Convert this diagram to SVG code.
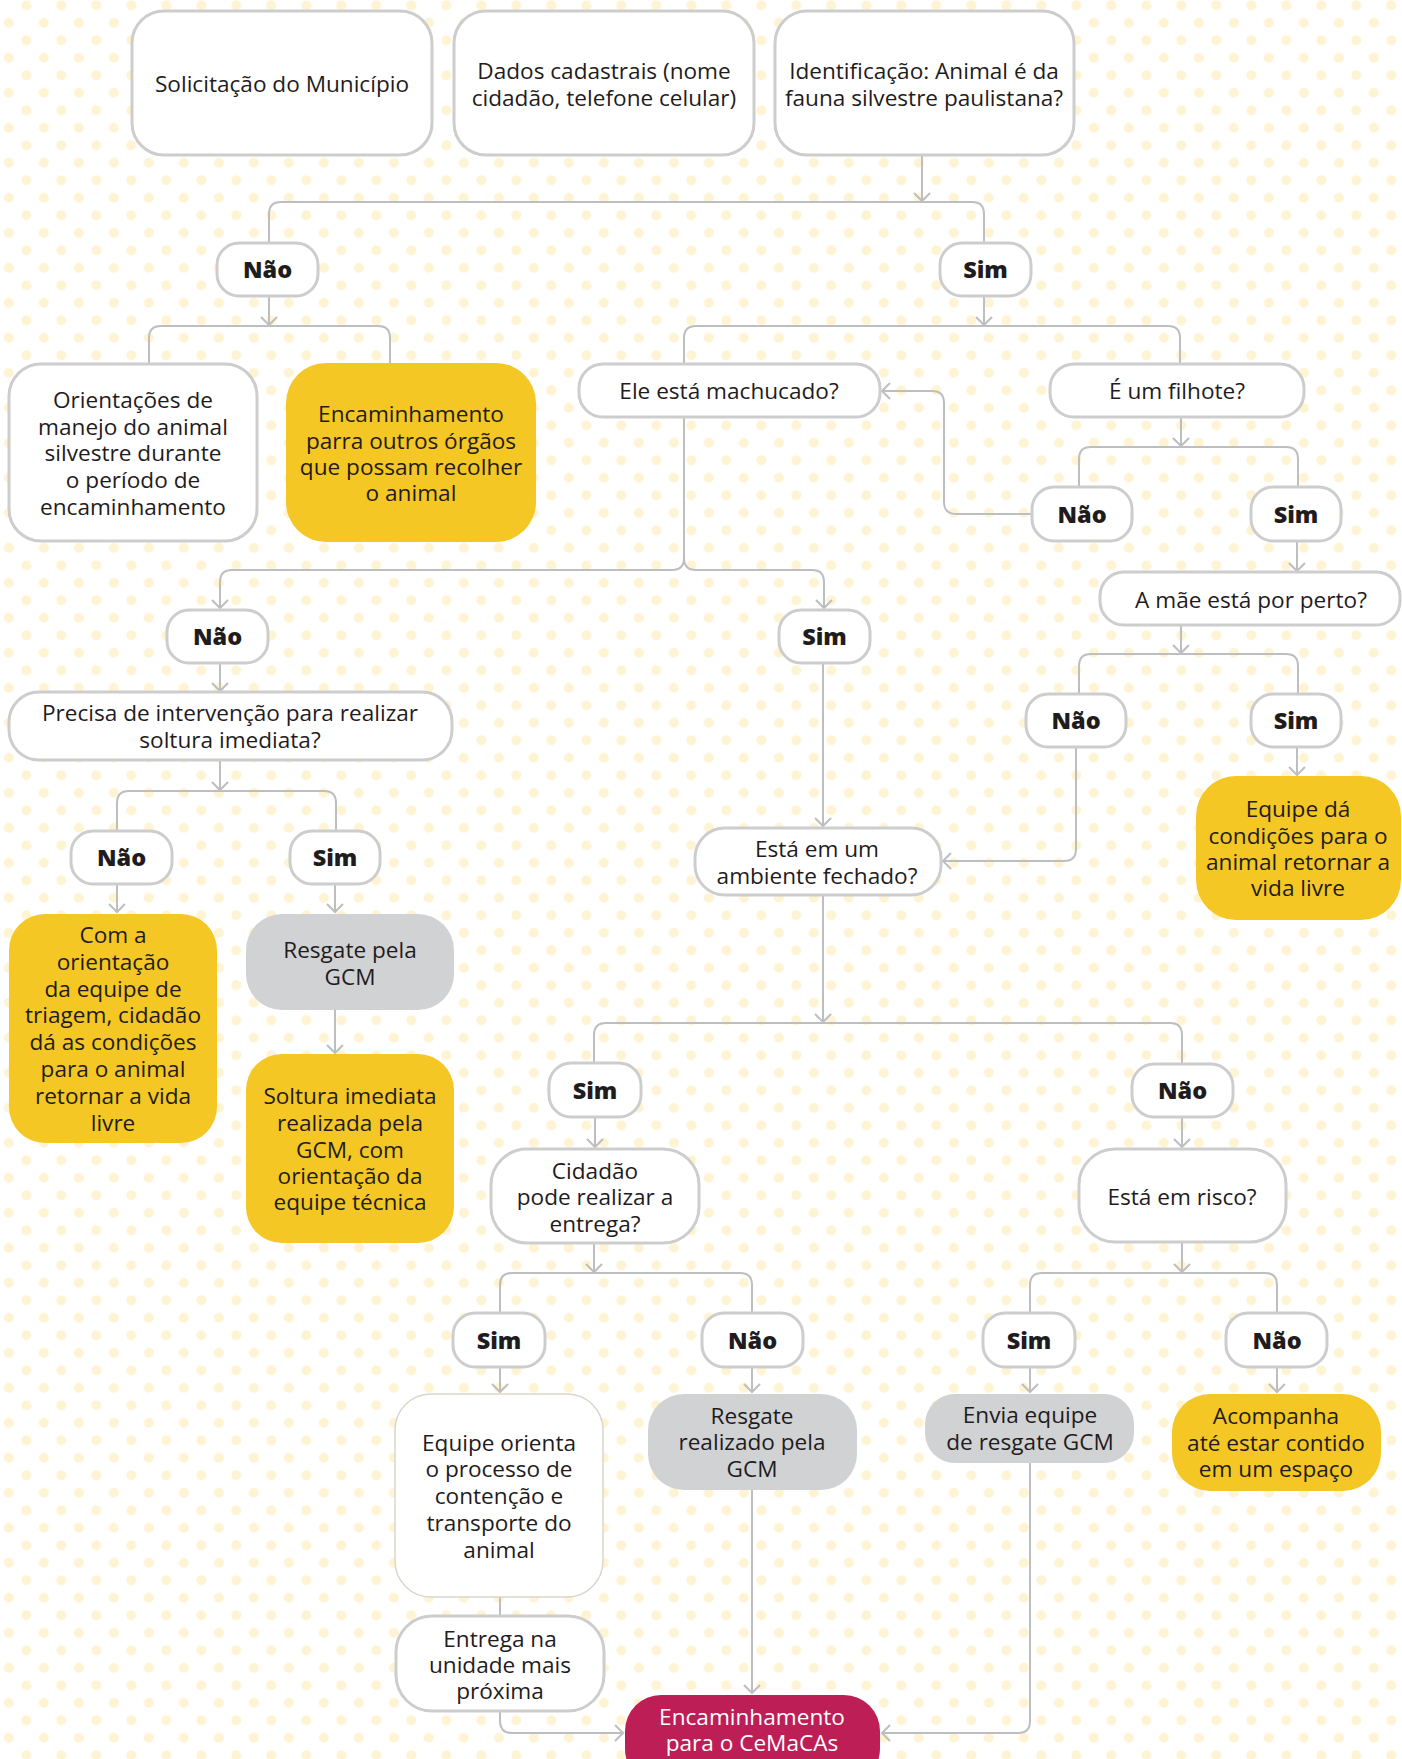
<svg xmlns="http://www.w3.org/2000/svg" width="1402" height="1759" viewBox="0 0 1402 1759">
<defs>
<pattern id="dots" x="17.55" y="31.55" width="35" height="35" patternUnits="userSpaceOnUse">
<circle cx="8.75" cy="8.75" r="5" fill="#FEF3D2"/>
<circle cx="26.25" cy="26.25" r="5" fill="#FEF3D2"/>
</pattern>
<marker id="ar" viewBox="-10 -10 20 20" markerWidth="20" markerHeight="20" refX="0" refY="0" orient="auto" markerUnits="userSpaceOnUse">
<path d="M-8,-8 L0,0 L-8,8" fill="none" stroke="#BDBEC0" stroke-width="2"/>
</marker>
<style>
.box{fill:#fff;stroke:#CDCDCD;stroke-width:3}
.thin{fill:#fff;stroke:#DAD6CC;stroke-width:1.5}
.y{fill:#F4C724}
.g{fill:#D1D2D4}
.r{fill:#BD1E56}
.t{font-family:'Open Sans','Noto Sans','DejaVu Sans',sans-serif;font-size:22.6px;fill:#1F1C1D;text-anchor:middle}
.b{font-weight:800;font-size:23.5px}
.w{fill:#fff}
.c{fill:none;stroke:#BDBEC0;stroke-width:2}
.c.a{marker-end:url(#ar)}
</style>
</defs>
<rect width="1402" height="1759" fill="#fff"/>
<rect width="1402" height="1759" fill="url(#dots)"/>

<g id="connectors">
<path class="c a" d="M922,155 V201"/>
<path class="c" d="M269,243 V214 Q269,202 281,202 H972 Q984,202 984,214 V243"/>
<path class="c a" d="M269,296 V325"/>
<path class="c" d="M149,364 V338 Q149,326 161,326 H378 Q390,326 390,338 V364"/>
<path class="c a" d="M984,296 V325"/>
<path class="c" d="M684,364 V338 Q684,326 696,326 H1168 Q1180,326 1180,338 V364"/>
<path class="c a" d="M1181,417 V446"/>
<path class="c" d="M1079,487 V459 Q1079,447 1091,447 H1286 Q1298,447 1298,459 V487"/>
<path class="c a" d="M1032,514 H956 Q944,514 944,502 V403 Q944,391 932,391 H882"/>
<path class="c a" d="M1297,541 V571"/>
<path class="c a" d="M1181,625 V653"/>
<path class="c" d="M1079,694 V666 Q1079,654 1091,654 H1286 Q1298,654 1298,666 V694"/>
<path class="c a" d="M1297,747 V775"/>
<path class="c a" d="M1076,747 V849 Q1076,861 1064,861 H943"/>
<path class="c a" d="M684,417 V558 Q684,570 672,570 H232 Q220,570 220,582 V608"/>
<path class="c a" d="M684,558 Q684,570 696,570 H812 Q824,570 824,582 V608"/>
<path class="c a" d="M220,663 V691"/>
<path class="c a" d="M220,760 V790"/>
<path class="c" d="M117,831 V803 Q117,791 129,791 H324 Q336,791 336,803 V831"/>
<path class="c a" d="M117,884 V912"/>
<path class="c a" d="M335,884 V912"/>
<path class="c a" d="M335,1010 V1053"/>
<path class="c a" d="M823,663 V826"/>
<path class="c a" d="M823,895 V1022"/>
<path class="c" d="M594,1063 V1035 Q594,1023 606,1023 H1170 Q1182,1023 1182,1035 V1064"/>
<path class="c a" d="M595,1117 V1147"/>
<path class="c a" d="M1182,1117 V1147"/>
<path class="c a" d="M594,1243 V1272"/>
<path class="c" d="M500,1313 V1285 Q500,1273 512,1273 H740 Q752,1273 752,1285 V1313"/>
<path class="c a" d="M1182,1242 V1272"/>
<path class="c" d="M1030,1313 V1285 Q1030,1273 1042,1273 H1265 Q1277,1273 1277,1285 V1313"/>
<path class="c a" d="M500,1367 V1392"/>
<path class="c a" d="M752,1367 V1392"/>
<path class="c a" d="M1030,1367 V1392"/>
<path class="c a" d="M1277,1367 V1392"/>
<path class="c" d="M500,1597 V1616"/>
<path class="c a" d="M500,1711 V1721 Q500,1733 512,1733 H623"/>
<path class="c a" d="M752,1490 V1693"/>
<path class="c a" d="M1030,1463 V1721 Q1030,1733 1018,1733 H882"/>
</g>

<g id="n-solicitacao"><rect class="box" x="132" y="11" width="300" height="144" rx="32"/><text class="t"><tspan x="282" y="92">Solicitação do Município</tspan></text></g>
<g id="n-dados"><rect class="box" x="454" y="11" width="300" height="144" rx="32"/><text class="t"><tspan x="604" y="79">Dados cadastrais (nome</tspan><tspan x="604" y="106">cidadão, telefone celular)</tspan></text></g>
<g id="n-identificacao"><rect class="box" x="775" y="11" width="299" height="144" rx="32"/><text class="t"><tspan x="924" y="79">Identificação: Animal é da</tspan><tspan x="924" y="106">fauna silvestre paulistana?</tspan></text></g>
<g id="n-nao1"><rect class="box" x="217" y="243" width="101" height="53" rx="22"/><text class="t b" x="267.5" y="278">Não</text></g>
<g id="n-sim1"><rect class="box" x="940" y="243" width="91" height="53" rx="22"/><text class="t b" x="985.5" y="278">Sim</text></g>
<g id="n-orientacoes"><rect class="box" x="9" y="364" width="248" height="177" rx="32"/><text class="t"><tspan x="133" y="408">Orientações de</tspan><tspan x="133" y="435">manejo do animal</tspan><tspan x="133" y="461">silvestre durante</tspan><tspan x="133" y="488">o período de</tspan><tspan x="133" y="515">encaminhamento</tspan></text></g>
<g id="n-encaminhamento-orgaos"><rect class="y" x="286" y="363" width="250" height="179" rx="40"/><text class="t"><tspan x="411" y="422">Encaminhamento</tspan><tspan x="411" y="449">parra outros órgãos</tspan><tspan x="411" y="475">que possam recolher</tspan><tspan x="411" y="501">o animal</tspan></text></g>
<g id="n-machucado"><rect class="box" x="579" y="364" width="301" height="53" rx="24"/><text class="t" x="729" y="399">Ele está machucado?</text></g>
<g id="n-filhote"><rect class="box" x="1050" y="364" width="254" height="53" rx="24"/><text class="t" x="1177" y="399">É um filhote?</text></g>
<g id="n-nao-filhote"><rect class="box" x="1032" y="487" width="100" height="54" rx="22"/><text class="t b" x="1082" y="523">Não</text></g>
<g id="n-sim-filhote"><rect class="box" x="1251" y="487" width="90" height="54" rx="22"/><text class="t b" x="1296" y="523">Sim</text></g>
<g id="n-mae"><rect class="box" x="1100" y="572" width="300" height="53" rx="24"/><text class="t" x="1251" y="608">A mãe está por perto?</text></g>
<g id="n-nao-mach"><rect class="box" x="167" y="610" width="101" height="53" rx="22"/><text class="t b" x="217.5" y="645">Não</text></g>
<g id="n-sim-mach"><rect class="box" x="779" y="610" width="91" height="53" rx="22"/><text class="t b" x="824.5" y="645">Sim</text></g>
<g id="n-precisa"><rect class="box" x="9" y="692" width="443" height="68" rx="30"/><text class="t"><tspan x="230" y="721">Precisa de intervenção para realizar</tspan><tspan x="230" y="748">soltura imediata?</tspan></text></g>
<g id="n-nao-mae"><rect class="box" x="1026" y="694" width="100" height="53" rx="22"/><text class="t b" x="1076" y="729">Não</text></g>
<g id="n-sim-mae"><rect class="box" x="1251" y="694" width="90" height="53" rx="22"/><text class="t b" x="1296" y="729">Sim</text></g>
<g id="n-equipe-da"><rect class="y" x="1196" y="776" width="205" height="144" rx="40"/><text class="t"><tspan x="1298" y="817">Equipe dá</tspan><tspan x="1298" y="844">condições para o</tspan><tspan x="1298" y="870">animal retornar a</tspan><tspan x="1298" y="896">vida livre</tspan></text></g>
<g id="n-nao-prec"><rect class="box" x="71" y="831" width="101" height="53" rx="22"/><text class="t b" x="121.5" y="866">Não</text></g>
<g id="n-sim-prec"><rect class="box" x="290" y="831" width="90" height="53" rx="22"/><text class="t b" x="335" y="866">Sim</text></g>
<g id="n-ambiente"><rect class="box" x="695" y="828" width="246" height="67" rx="30"/><text class="t"><tspan x="817" y="857">Está em um</tspan><tspan x="817" y="884">ambiente fechado?</tspan></text></g>
<g id="n-com-a"><rect class="y" x="9" y="914" width="208" height="229" rx="36"/><text class="t"><tspan x="113" y="943">Com a</tspan><tspan x="113" y="970">orientação</tspan><tspan x="113" y="997">da equipe de</tspan><tspan x="113" y="1023">triagem, cidadão</tspan><tspan x="113" y="1050">dá as condições</tspan><tspan x="113" y="1077">para o animal</tspan><tspan x="113" y="1104">retornar a vida</tspan><tspan x="113" y="1131">livre</tspan></text></g>
<g id="n-resgate-gcm"><rect class="g" x="246" y="914" width="208" height="96" rx="36"/><text class="t"><tspan x="350" y="958">Resgate pela</tspan><tspan x="350" y="985">GCM</tspan></text></g>
<g id="n-soltura"><rect class="y" x="246" y="1054" width="208" height="189" rx="36"/><text class="t"><tspan x="350" y="1104">Soltura imediata</tspan><tspan x="350" y="1131">realizada pela</tspan><tspan x="350" y="1158">GCM, com</tspan><tspan x="350" y="1184">orientação da</tspan><tspan x="350" y="1210">equipe técnica</tspan></text></g>
<g id="n-sim-amb"><rect class="box" x="549" y="1063" width="92" height="54" rx="22"/><text class="t b" x="595" y="1099">Sim</text></g>
<g id="n-nao-amb"><rect class="box" x="1132" y="1064" width="101" height="53" rx="22"/><text class="t b" x="1182.5" y="1099">Não</text></g>
<g id="n-cidadao"><rect class="box" x="491" y="1149" width="208" height="94" rx="36"/><text class="t"><tspan x="595" y="1179">Cidadão</tspan><tspan x="595" y="1205">pode realizar a</tspan><tspan x="595" y="1232">entrega?</tspan></text></g>
<g id="n-risco"><rect class="box" x="1079" y="1149" width="207" height="93" rx="36"/><text class="t" x="1182" y="1205">Está em risco?</text></g>
<g id="n-sim-cid"><rect class="box" x="453" y="1313" width="92" height="54" rx="22"/><text class="t b" x="499" y="1349">Sim</text></g>
<g id="n-nao-cid"><rect class="box" x="702" y="1313" width="101" height="54" rx="22"/><text class="t b" x="752.5" y="1349">Não</text></g>
<g id="n-sim-risco"><rect class="box" x="983" y="1313" width="92" height="54" rx="22"/><text class="t b" x="1029" y="1349">Sim</text></g>
<g id="n-nao-risco"><rect class="box" x="1226" y="1313" width="101" height="54" rx="22"/><text class="t b" x="1277" y="1349">Não</text></g>
<g id="n-equipe-orienta"><rect class="thin" x="395" y="1394" width="208" height="203" rx="36"/><text class="t"><tspan x="499" y="1451">Equipe orienta</tspan><tspan x="499" y="1477">o processo de</tspan><tspan x="499" y="1504">contenção e</tspan><tspan x="499" y="1531">transporte do</tspan><tspan x="499" y="1558">animal</tspan></text></g>
<g id="n-resgate-realizado"><rect class="g" x="648" y="1394" width="209" height="96" rx="36"/><text class="t"><tspan x="752" y="1424">Resgate</tspan><tspan x="752" y="1450">realizado pela</tspan><tspan x="752" y="1477">GCM</tspan></text></g>
<g id="n-envia"><rect class="g" x="925" y="1394" width="209" height="69" rx="30"/><text class="t"><tspan x="1030" y="1423">Envia equipe</tspan><tspan x="1030" y="1450">de resgate GCM</tspan></text></g>
<g id="n-acompanha"><rect class="y" x="1172" y="1394" width="209" height="97" rx="38"/><text class="t"><tspan x="1276" y="1424">Acompanha</tspan><tspan x="1276" y="1451">até estar contido</tspan><tspan x="1276" y="1477">em um espaço</tspan></text></g>
<g id="n-entrega"><rect class="box" x="396" y="1616" width="208" height="95" rx="36"/><text class="t"><tspan x="500" y="1647">Entrega na</tspan><tspan x="500" y="1673">unidade mais</tspan><tspan x="500" y="1699">próxima</tspan></text></g>
<g id="n-cemacas"><rect class="r" x="625" y="1695" width="255" height="90" rx="36"/><text class="t w"><tspan x="752" y="1725">Encaminhamento</tspan><tspan x="752" y="1751">para o CeMaCAs</tspan></text></g>
</svg>
